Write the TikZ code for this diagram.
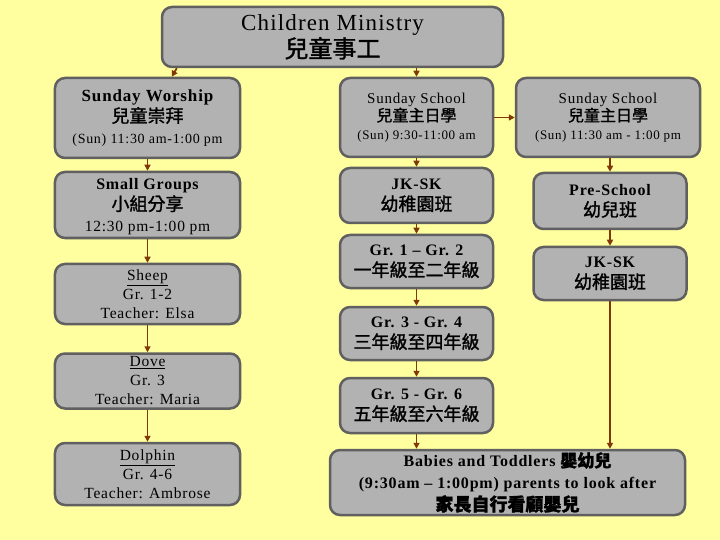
\documentclass[tikz,border=0pt]{standalone}
\usepackage{fontspec}
\usetikzlibrary{arrows.meta}
\setmainfont{Liberation Serif}[LetterSpace=5]
\newfontfamily\cjk[FakeBold=1.4]{Noto Sans CJK TC}
\definecolor{paper}{RGB}{255,255,160}
\definecolor{boxfill}{RGB}{178,178,178}
\definecolor{boxline}{RGB}{96,96,96}
\definecolor{arrowbrown}{RGB}{128,56,8}
% one line of text at a given size (bp)
\newcommand\entxt[2]{{\fontsize{#1bp}{20bp}\selectfont #2}}
\newcommand\zhtxt[2]{{\cjk\fontsize{#1bp}{20bp}\selectfont #2}}
\begin{document}
\begin{tikzpicture}[x=1bp,y=-1bp,
	box/.style={draw=boxline,fill=boxfill,line width=2.5bp,rounded corners=10bp,
		align=center,inner sep=0pt,font=\fontsize{14bp}{21bp}\selectfont},
	arr/.style={draw=arrowbrown,line width=1.8bp,-{Triangle[length=6bp,width=6bp]}}]
	\fill [paper] (0,0) rectangle (720,540);
	% top
	\node [box,minimum width=341bp,minimum height=60bp,font=\fontsize{14bp}{27bp}\selectfont] (top) at (332.5,37)
		{\entxt{23}{Children Ministry}\\\zhtxt{24}{兒童事工}};
	% left column
	\node [box,minimum width=185bp,minimum height=80bp] (sw) at (147.5,118)
		{\entxt{17}{\bfseries Sunday Worship}\\\zhtxt{18}{兒童崇拜}\\\entxt{14}{(Sun) 11:30 am-1:00 pm}};
	\node [box,minimum width=185bp,minimum height=66bp,text depth=-4bp] (sg) at (147.5,205)
		{\entxt{16}{\bfseries Small Groups}\\\zhtxt{18}{小組分享}\\\entxt{15.5}{12:30 pm-1:00 pm}};
	\node [box,minimum width=185bp,minimum height=60bp,font=\fontsize{15.5bp}{19bp}\selectfont] (sheep) at (147.5,294)
		{\underline{Sheep}\\Gr. 1-2\\Teacher: Elsa};
	\node [box,minimum width=185bp,minimum height=55bp,font=\fontsize{15.5bp}{19bp}\selectfont] (dove) at (147.5,381)
		{\underline{Dove}\\Gr. 3\\Teacher: Maria};
	\node [box,minimum width=185bp,minimum height=62bp,font=\fontsize{15.5bp}{19bp}\selectfont] (dolphin) at (147.5,474)
		{\underline{Dolphin}\\Gr. 4-6\\Teacher: Ambrose};
	% middle column
	\node [box,minimum width=153bp,minimum height=79bp,font=\fontsize{14bp}{18bp}\selectfont] (ss1) at (416.5,117.5)
		{\entxt{15}{Sunday School}\\\zhtxt{16}{兒童主日學}\\\entxt{13}{(Sun) 9:30-11:00 am}};
	\node [box,minimum width=153bp,minimum height=55bp] (jk1) at (416.5,195.5)
		{\entxt{16}{\bfseries JK-SK}\\\zhtxt{18}{幼稚園班}};
	\node [box,minimum width=153bp,minimum height=53bp] (gr12) at (416.5,261.5)
		{\entxt{16}{\bfseries Gr. 1 -- Gr. 2}\\\zhtxt{18}{一年級至二年級}};
	\node [box,minimum width=153bp,minimum height=53bp] (gr34) at (416.5,333.5)
		{\entxt{16}{\bfseries Gr. 3 - Gr. 4}\\\zhtxt{18}{三年級至四年級}};
	\node [box,minimum width=153bp,minimum height=55bp] (gr56) at (416.5,405.5)
		{\entxt{16}{\bfseries Gr. 5 - Gr. 6}\\\zhtxt{18}{五年級至六年級}};
	% right column
	\node [box,minimum width=184bp,minimum height=79bp,font=\fontsize{14bp}{18bp}\selectfont] (ss2) at (608,117.5)
		{\entxt{15}{Sunday School}\\\zhtxt{16}{兒童主日學}\\\entxt{13}{(Sun) 11:30 am - 1:00 pm}};
	\node [box,minimum width=153bp,minimum height=56bp] (pre) at (610,201)
		{\entxt{16}{\bfseries Pre-School}\\\zhtxt{18}{幼兒班}};
	\node [box,minimum width=153bp,minimum height=53bp] (jk2) at (610,273.5)
		{\entxt{16}{\bfseries JK-SK}\\\zhtxt{18}{幼稚園班}};
	% bottom
	\node [box,minimum width=355bp,minimum height=65bp,font=\fontsize{16bp}{22bp}\selectfont\bfseries] (babies) at (507.5,482.5)
		{Babies and Toddlers \zhtxt{17}{嬰幼兒}\\(9:30am -- 1:00pm) parents to look after\\\zhtxt{18}{家長自行看顧嬰兒}};
	% arrows
	\draw [arr] ([xshift=16bp]top.south west) -- ([xshift=118bp]sw.north west);
	\draw [arr] (ss1.north |- top.south) -- (ss1.north);
	\draw [arr] (ss1.east) -- (ss2.west);
	\draw [arr] (sw) -- (sg);
	\draw [arr] (sg) -- (sheep);
	\draw [arr] (sheep) -- (dove);
	\draw [arr] (dove) -- (dolphin);
	\draw [arr] (ss1) -- (jk1);
	\draw [arr] (jk1) -- (gr12);
	\draw [arr] (gr12) -- (gr34);
	\draw [arr] (gr34) -- (gr56);
	\draw [arr] (gr56.south) -- (babies.north -| gr56.south);
	\draw [arr] (pre.north |- ss2.south) -- (pre.north);
	\draw [arr] (pre) -- (jk2);
	\draw [arr] (jk2.south) -- (babies.north -| jk2.south);
\end{tikzpicture}
\end{document}
